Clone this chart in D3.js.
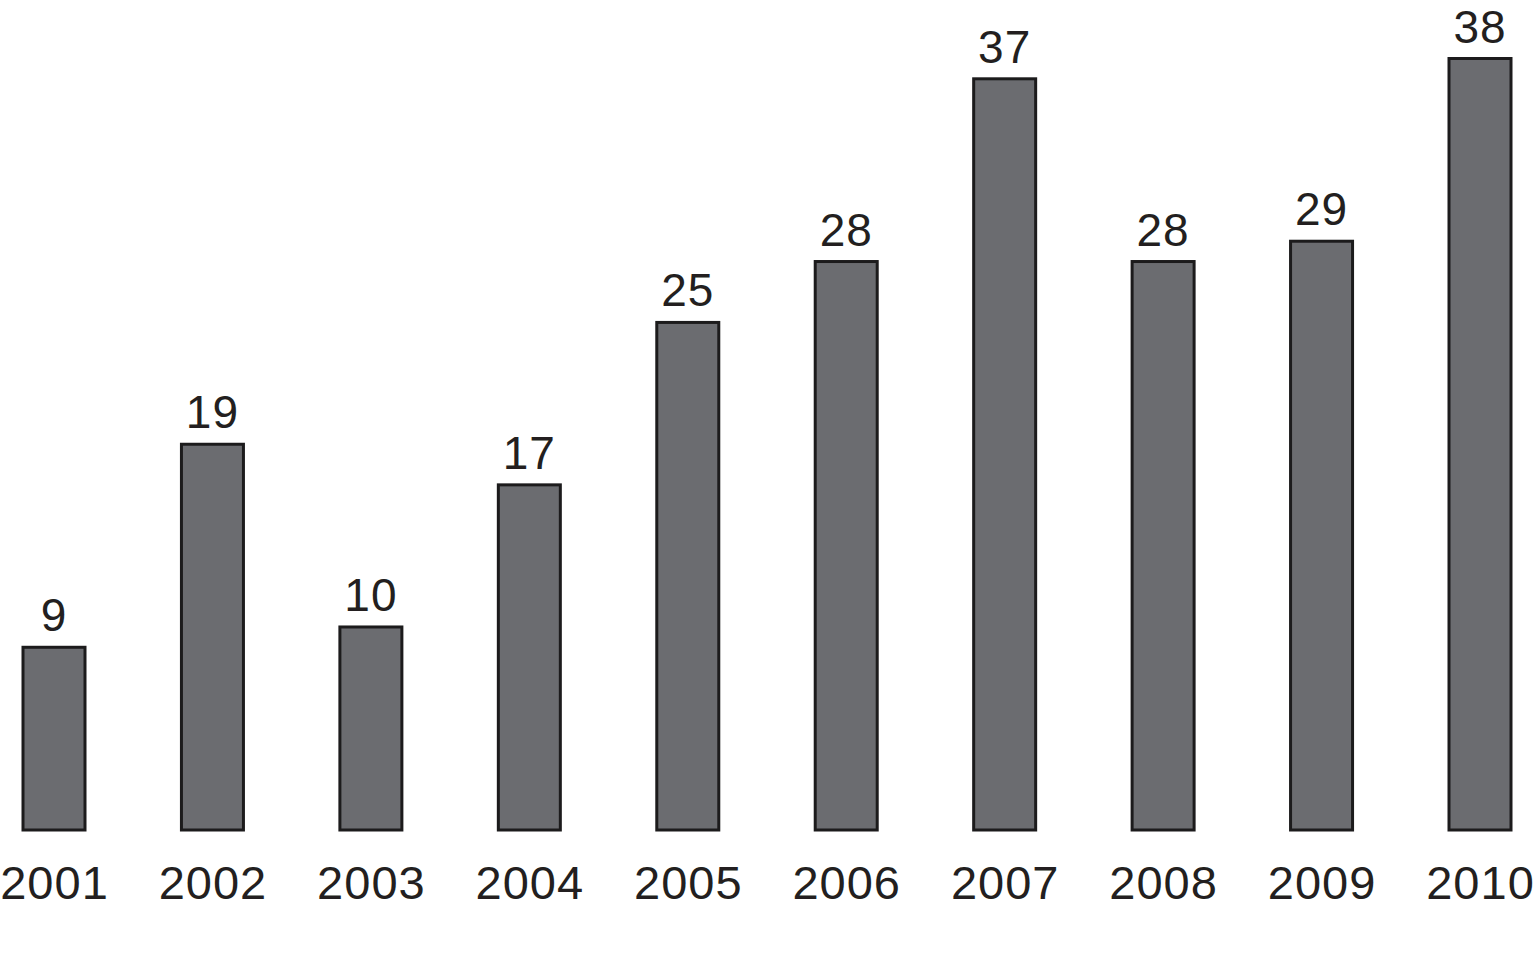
<!DOCTYPE html>
<html>
<head>
<meta charset="utf-8">
<script src="https://cdn.jsdelivr.net/npm/d3@7"></script>
<style>
  html, body { margin: 0; padding: 0; background: #fff; }
  svg { display: block; }
</style>
</head>
<body>
<svg id="chart" width="1534" height="957"></svg>
<script>
const years = ["2001","2002","2003","2004","2005","2006","2007","2008","2009","2010"];
const values = [9, 19, 10, 17, 25, 28, 37, 28, 29, 38];

const svg = d3.select("#chart");
const x = d3.scalePoint().domain(years).range([54, 1480]);
const barW = 62;
const y = d3.scaleLinear().domain([0, 38]).range([830, 58.5]);

const data = years.map((yr, i) => ({ year: yr, value: values[i] }));

svg.selectAll("rect.bar").data(data).enter().append("rect")
  .attr("class", "bar")
  .attr("x", d => x(d.year) - barW / 2)
  .attr("y", d => y(d.value))
  .attr("width", barW)
  .attr("height", d => y(0) - y(d.value))
  .attr("fill", "#6b6c70")
  .attr("stroke", "#1c1b1c")
  .attr("stroke-width", 3);

svg.selectAll("text.val").data(data).enter().append("text")
  .attr("class", "val")
  .attr("x", d => x(d.year))
  .attr("y", d => y(d.value) - 16)
  .attr("text-anchor", "middle")
  .attr("font-family", "Liberation Sans, Arial, Helvetica, sans-serif")
  .attr("font-size", 46)
  .attr("letter-spacing", 1)
  .attr("fill", "#231f20")
  .text(d => d.value);

const xAxis = d3.axisBottom(x).tickSize(0).tickPadding(0);
const g = svg.append("g").attr("transform", "translate(0,866)").call(xAxis);
g.select(".domain").remove();
g.selectAll("text")
  .attr("font-family", "Liberation Sans, Arial, Helvetica, sans-serif")
  .attr("font-size", 47)
  .attr("letter-spacing", 1)
  .attr("fill", "#231f20")
  .attr("dy", null)
  .attr("y", 33);
</script>
</body>
</html>
